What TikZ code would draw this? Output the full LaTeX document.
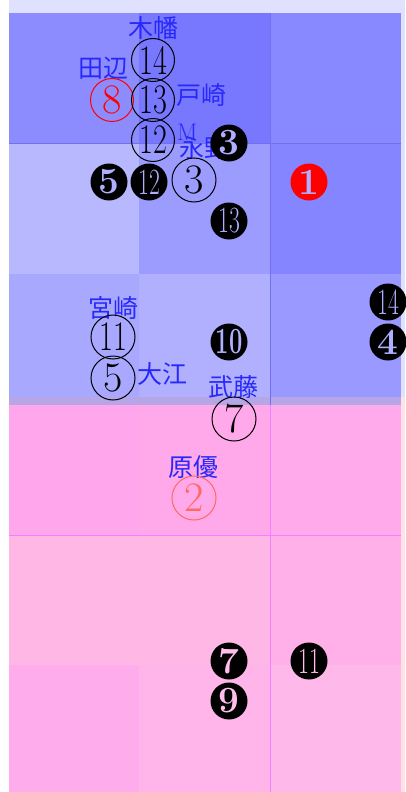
\documentclass[tikz,border=0pt]{standalone}
\usepackage{fontspec}
\usepackage{graphicx}
\newfontfamily\jpfont{Noto Sans CJK JP}
\definecolor{lblblue}{RGB}{40,40,250}
\definecolor{bglav}{RGB}{224,224,255}
\definecolor{bgpink}{RGB}{255,226,230}
\definecolor{ca1}{RGB}{140,140,255}
\definecolor{ca2}{RGB}{120,120,255}
\definecolor{ca3}{RGB}{136,136,255}
\definecolor{cb1}{RGB}{184,184,255}
\definecolor{cb2}{RGB}{156,156,255}
\definecolor{cb3}{RGB}{133,133,255}
\definecolor{cc1}{RGB}{168,168,255}
\definecolor{cc2}{RGB}{176,176,255}
\definecolor{cc3}{RGB}{153,153,255}
\definecolor{cd1}{RGB}{255,166,236}
\definecolor{cd2}{RGB}{255,168,234}
\definecolor{cd3}{RGB}{255,170,234}
\definecolor{ce1}{RGB}{255,184,230}
\definecolor{ce3}{RGB}{255,176,232}
\definecolor{cf1}{RGB}{255,172,236}
\definecolor{cf2}{RGB}{255,180,234}
\definecolor{cf3}{RGB}{255,184,234}
\definecolor{band}{RGB}{182,166,230}
\definecolor{bluegrid}{RGB}{112,112,240}
\definecolor{pinkgrid}{RGB}{245,128,255}
\definecolor{salmon}{RGB}{255,105,95}
\definecolor{numblue}{RGB}{175,175,255}
\definecolor{numpink}{RGB}{255,190,236}
\tikzset{
  lbl/.style={text=lblblue, font=\jpfont\fontsize{25}{25}\selectfont, inner sep=0pt},
  mlbl/.style={text=lblblue, font=\fontsize{24}{24}\selectfont, inner sep=0pt},
  ocirc/.style={circle, draw=black, line width=1pt, minimum size=43pt, inner sep=0pt, font=\fontsize{42}{42}\selectfont},
  fcirc/.style={circle, fill=black, minimum size=37pt, inner sep=0pt, font=\bfseries\fontsize{37}{37}\selectfont},
  fcircb/.style={fcirc, text=numblue},
  fcircp/.style={fcirc, text=numpink},
}
\newcommand{\twodig}[1]{\scalebox{0.72}[1]{#1}}
\newcommand{\twodigf}[1]{\scalebox{0.64}[1]{#1}}
\begin{document}
\begin{tikzpicture}[x=1pt,y=-1pt]
\useasboundingbox (0,0) rectangle (405,792);
% backgrounds
\fill[white] (0,0) rectangle (405,792);
\fill[bglav] (9,0) rectangle (405,397);
\fill[bgpink] (9,397) rectangle (405,792);
% pink cells
\fill[cd1] (9,397) rectangle (139,535);
\fill[cd2] (139,397) rectangle (270,535);
\fill[cd3] (270,397) rectangle (401,535);
\fill[ce1] (9,535) rectangle (270,665);
\fill[ce3] (270,535) rectangle (401,665);
\fill[cf1] (9,665) rectangle (139,792);
\fill[cf2] (139,665) rectangle (270,792);
\fill[cf3] (270,665) rectangle (401,792);
% blue cells
\fill[ca1] (9,13) rectangle (139,143);
\fill[ca2] (139,13) rectangle (270,143);
\fill[ca3] (270,13) rectangle (401,143);
\fill[cb1] (9,143) rectangle (139,274);
\fill[cb2] (139,143) rectangle (270,274);
\fill[cb3] (270,143) rectangle (401,274);
\fill[cc1] (9,274) rectangle (139,397);
\fill[cc2] (139,274) rectangle (270,397);
\fill[cc3] (270,274) rectangle (401,397);
\fill[band] (9,397) rectangle (401,405);
% grid lines
\draw[bluegrid, line width=0.8pt] (9,143) -- (401,143);
\draw[bluegrid, line width=0.8pt] (270,13) -- (270,405);
\draw[pinkgrid, line width=0.8pt] (270,405) -- (270,792);
\draw[pinkgrid, line width=0.8pt] (9,535) -- (401,535);
% labels
\node[lbl] (kowata) at (153,28) {木幡};
\node[lbl] (tanabe) at (103,68) {田辺};
\node[lbl] (tozaki) at (201,95) {戸崎};
\node[lbl, anchor=west] (nagano) at (179,148) {永野};
\node[mlbl, anchor=west] (mlab) at (177,132) {M};
\node[lbl] (miyazaki) at (113,308) {宮崎};
\node[lbl] (ooe) at (162,374) {大江};
\node[lbl] (muto) at (233,387) {武藤};
\node[lbl] (hara) at (193,467) {原優};
% open circles
\node[ocirc] (o14) at (153,60) {\twodig{14}};
\node[ocirc, draw=red, text=red] (o8) at (112,100) {8};
\node[ocirc] (o13) at (153,100) {\twodig{13}};
\node[ocirc] (o12) at (153,140) {\twodig{12}};
\node[ocirc, minimum size=44pt] (o3) at (194,180) {3};
\node[ocirc, minimum size=44pt] (o11) at (113,337) {\twodig{11}};
\node[ocirc, minimum size=44pt] (o5) at (113,378) {5};
\node[ocirc, minimum size=44pt] (o7) at (234,419) {7};
\node[ocirc, minimum size=44pt, draw=salmon, text=salmon] (o2) at (194,498) {2};
% filled circles
\node[fcircb] (f3) at (229,143) {3};
\node[fcircb] (f5) at (109,182) {5};
\node[fcircb, font=\fontsize{37}{37}\selectfont] (f12) at (149,182) {\twodigf{12}};
\node[fcircb, font=\fontsize{37}{37}\selectfont] (f13) at (229,221) {\twodigf{13}};
\node[fcirc, fill=red, text=numblue] (f1) at (309,182) {1};
\node[fcircb, font=\fontsize{37}{37}\selectfont] (f14) at (388,302) {\twodigf{14}};
\node[fcircb] (f4) at (388,342) {4};
\node[fcircb] (f10) at (229,342) {\twodigf{10}};
\node[fcircp] (f7) at (229,661) {7};
\node[fcircp] (f9) at (229,701) {9};
\node[fcircp, font=\fontsize{37}{37}\selectfont] (f11) at (309,661) {\twodigf{11}};
\end{tikzpicture}
\end{document}
